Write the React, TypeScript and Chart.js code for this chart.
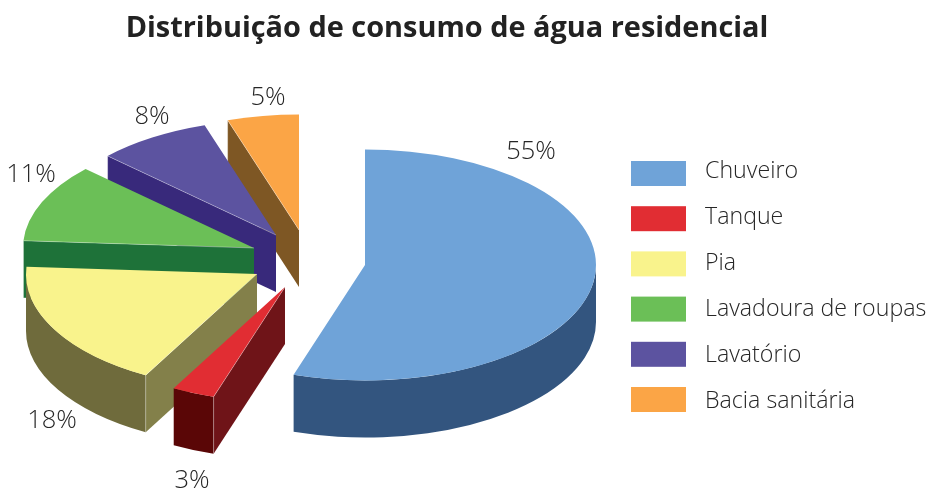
import React, { useEffect, useRef } from "react";
import { Chart, registerables } from "chart.js";

Chart.register(...registerables);

// Data
const categories = ["Chuveiro", "Tanque", "Pia", "Lavadoura de roupas", "Lavatório", "Bacia sanitária"];
const shares = [55, 3, 18, 11, 8, 5];
const chartTitle = "Distribuição de consumo de água residencial";

// Styles
const topColors = ["#6FA3D8", "#E12D33", "#F9F38C", "#6BBF57", "#5C53A0", "#FBA546"];
const wallColors = ["#33557F", "#5A0606", "#6F6B3C", "#1E7239", "#38297B", "#7E5724"];
const faceColors = ["#33557F", "#6F1418", "#83804A", "#1E7239", "#38297B", "#7E5724"];
const sliceShiftX = [0, -80, -108, -111, -89, -66];
const sliceShiftY = [0, 22, 9, -17, -30, -35];
const labelX = [531, 192, 52, 31, 152, 268];
const labelY = [152, 481, 421, 175, 117, 98];
const textColor = "#262626";
const TILT = 0.5;
const DEPTH = 57;
const RADIUS = 231;
const SANS = '"Open Sans", sans-serif';

const extrudedPie = {
  id: "extrudedPie",
  afterLayout(chart: any) {
    if (chart.titleBlock) {
      chart.titleBlock.left = 0;
      chart.titleBlock.right = 894;
    }
  },
  beforeDatasetsDraw(chart: any) {
    const { ctx, chartArea } = chart;
    const arcs = chart.getDatasetMeta(0).data;
    for (let i = arcs.length - 1; i >= 0; i--) {
      const arc = arcs[i];
      const R = arc.outerRadius;
      const cx = arc.x + sliceShiftX[i];
      const cy = arc.y + sliceShiftY[i];
      const a0 = arc.startAngle;
      const a1 = arc.endAngle;
      const px = (a: number) => cx + R * Math.cos(a);
      const py = (a: number) => cy + R * Math.sin(a) * TILT;

      // cut face on the start edge, when it looks towards the viewer
      if (-Math.cos(a0) > 1e-6) {
        ctx.beginPath();
        ctx.moveTo(cx, cy);
        ctx.lineTo(px(a0), py(a0));
        ctx.lineTo(px(a0), py(a0) + DEPTH);
        ctx.lineTo(cx, cy + DEPTH);
        ctx.closePath();
        ctx.fillStyle = faceColors[i];
        ctx.fill();
      }
      // outer wall: only the part of the rim on the near side
      const w0 = Math.max(a0, 0);
      const w1 = Math.min(a1, Math.PI);
      if (w1 > w0) {
        ctx.beginPath();
        ctx.ellipse(cx, cy, R, R * TILT, 0, w0, w1, false);
        ctx.ellipse(cx, cy + DEPTH, R, R * TILT, 0, w1, w0, true);
        ctx.closePath();
        ctx.fillStyle = wallColors[i];
        ctx.fill();
      }
      // top, drawn by the library's own arc element
      ctx.save();
      ctx.translate(cx, cy);
      ctx.scale(1, TILT);
      ctx.translate(-arc.x, -arc.y);
      arc.draw(ctx, chartArea);
      ctx.restore();

      // thin highlights on the edges
      ctx.save();
      ctx.strokeStyle = "rgba(255,255,255,0.4)";
      ctx.lineWidth = 0.8;
      if (-Math.cos(a0) > 1e-6) {
        ctx.beginPath();
        ctx.moveTo(cx, cy);
        ctx.lineTo(px(a0), py(a0));
        ctx.lineTo(px(a0), py(a0) + DEPTH);
        ctx.stroke();
      }
      ctx.restore();
    }
    return false;
  },
  afterDraw(chart: any) {
    const { ctx } = chart;
    ctx.save();
    ctx.fillStyle = textColor;
    ctx.textBaseline = "middle";
    ctx.font = `300 25.5px ${SANS}`;
    ctx.textAlign = "center";
    shares.forEach((v, i) => ctx.fillText(`${v}%`, labelX[i], labelY[i]));
    // legend
    ctx.font = `300 23.2px ${SANS}`;
    ctx.textAlign = "left";
    categories.forEach((name, i) => {
      const top = 161 + i * 45.2;
      ctx.fillStyle = topColors[i];
      ctx.fillRect(631, top, 55, 25);
      ctx.fillStyle = textColor;
      ctx.fillText(name, 705, 171 + i * 46);
    });
    ctx.restore();
  },
};

export default function App() {
  const ref = useRef<HTMLCanvasElement>(null);
  useEffect(() => {
    document.body.style.margin = "0";
    const chart = new Chart(ref.current!, {
      type: "pie",
      data: {
        labels: categories,
        datasets: [{ data: shares, backgroundColor: topColors, borderWidth: 0 }],
      },
      options: {
        responsive: false,
        animation: false,
        events: [],
        radius: RADIUS,
        layout: { padding: { left: 0, right: 197, top: 0, bottom: 12 } },
        plugins: {
          legend: { display: false },
          tooltip: { enabled: false },
          title: {
            display: true,
            text: chartTitle,
            color: "#222222",
            font: { family: SANS, size: 28.9, weight: "bold", lineHeight: 1.2 },
            padding: { top: 11, bottom: 7.3 },
          },
        },
      },
      plugins: [extrudedPie],
    } as any);
    return () => chart.destroy();
  }, []);
  return <canvas ref={ref} width={927} height={489} style={{ display: "block", background: "#fff" }} />;
}
